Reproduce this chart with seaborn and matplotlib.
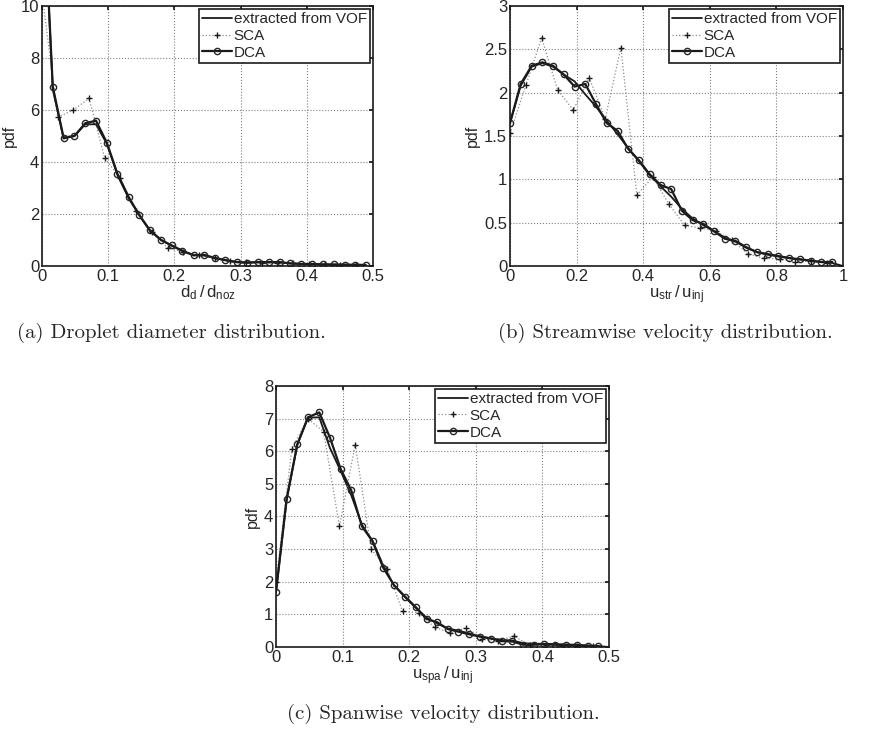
import numpy as np
import pandas as pd
import seaborn as sns
import matplotlib.pyplot as plt

# ---- (a) droplet diameter ----
a_dca_x = [0.0, 0.0163, 0.0326, 0.049, 0.0653, 0.0816, 0.098, 0.114, 0.131, 0.147, 0.163,
           0.18, 0.196, 0.212, 0.229, 0.245, 0.261, 0.277, 0.294, 0.31, 0.326, 0.343,
           0.359, 0.375, 0.392, 0.408, 0.424, 0.441, 0.457, 0.473, 0.489]
a_dca_y = [15.5, 6.9, 4.94, 5.0, 5.49, 5.59, 4.74, 3.55, 2.65, 1.96, 1.38,
           1.0, 0.79, 0.59, 0.41, 0.43, 0.31, 0.23, 0.15, 0.13, 0.15, 0.15,
           0.15, 0.10, 0.08, 0.08, 0.06, 0.06, 0.05, 0.05, 0.04]
a_vof_y = [15.5, 6.8, 4.9, 5.0, 5.45, 5.45, 4.7, 3.5, 2.6, 1.95, 1.35,
           1.0, 0.78, 0.58, 0.42, 0.4, 0.3, 0.22, 0.15, 0.13, 0.14, 0.14,
           0.14, 0.1, 0.08, 0.07, 0.06, 0.05, 0.05, 0.04, 0.03]
a_sca_x = [0.0, 0.0237, 0.0474, 0.0711, 0.0948, 0.1185, 0.142, 0.166, 0.19, 0.213, 0.237,
           0.261, 0.284, 0.308, 0.332, 0.355, 0.379, 0.403, 0.427, 0.45, 0.474]
a_sca_y = [10.5, 5.72, 6.0, 6.45, 4.15, 3.37, 2.1, 1.3, 0.7, 0.55, 0.42,
           0.3, 0.2, 0.15, 0.13, 0.12, 0.1, 0.08, 0.06, 0.05, 0.04]

# ---- (b) streamwise velocity ----
b_dca_x = [0.0, 0.032, 0.065, 0.097, 0.129, 0.161, 0.194, 0.226, 0.258, 0.29, 0.323,
           0.355, 0.387, 0.419, 0.452, 0.484, 0.516, 0.548, 0.581, 0.613, 0.645,
           0.677, 0.71, 0.742, 0.774, 0.806, 0.839, 0.871, 0.903, 0.935, 0.968]
b_dca_y = [1.65, 2.10, 2.31, 2.35, 2.31, 2.21, 2.07, 2.10, 1.87, 1.65, 1.56,
           1.35, 1.22, 1.06, 0.935, 0.888, 0.638, 0.53, 0.485, 0.40, 0.315,
           0.29, 0.215, 0.16, 0.138, 0.115, 0.092, 0.077, 0.062, 0.046, 0.046]
b_vof_x = b_dca_x + [1.0]
b_vof_y = [1.65, 2.08, 2.30, 2.34, 2.30, 2.21, 2.13, 1.98, 1.84, 1.68, 1.52,
           1.36, 1.21, 1.05, 0.92, 0.80, 0.66, 0.55, 0.47, 0.40, 0.33,
           0.28, 0.21, 0.16, 0.13, 0.11, 0.09, 0.075, 0.06, 0.045, 0.035, 0.0]
b_sca_x = [0.0, 0.048, 0.095, 0.143, 0.19, 0.238, 0.286, 0.333, 0.381, 0.429, 0.476,
           0.524, 0.571, 0.619, 0.667, 0.714, 0.762, 0.81, 0.857, 0.905, 0.952]
b_sca_y = [1.53, 2.09, 2.63, 2.03, 1.80, 2.17, 1.70, 2.52, 0.82, 1.03, 0.72,
           0.47, 0.44, 0.40, 0.30, 0.14, 0.09, 0.08, 0.05, 0.06, 0.03]

# ---- (c) spanwise velocity ----
c_dca_x = [0.0, 0.016, 0.032, 0.048, 0.065, 0.081, 0.097, 0.113, 0.129, 0.145, 0.161,
           0.177, 0.194, 0.21, 0.226, 0.242, 0.258, 0.274, 0.29, 0.306, 0.323,
           0.339, 0.355, 0.371, 0.387, 0.403, 0.419, 0.435, 0.452, 0.468, 0.484]
c_dca_y = [1.69, 4.55, 6.21, 7.04, 7.19, 6.42, 5.46, 4.80, 3.70, 3.24, 2.43,
           1.90, 1.54, 1.22, 0.86, 0.76, 0.55, 0.47, 0.39, 0.32, 0.26,
           0.18, 0.17, 0.07, 0.07, 0.09, 0.07, 0.05, 0.05, 0.03, 0.03]
c_vof_x = c_dca_x + [0.5]
c_vof_y = [1.69, 4.5, 6.2, 7.03, 7.04, 6.1, 5.4, 4.65, 3.75, 3.25, 2.5,
           1.9, 1.52, 1.2, 0.9, 0.72, 0.57, 0.5, 0.42, 0.33, 0.26,
           0.22, 0.2, 0.12, 0.1, 0.1, 0.09, 0.08, 0.07, 0.05, 0.03, 0.0]
c_sca_x = [0.0, 0.0238, 0.0476, 0.0714, 0.0952, 0.119, 0.143, 0.167, 0.19, 0.214, 0.238,
           0.262, 0.286, 0.31, 0.333, 0.357, 0.381, 0.405, 0.429, 0.452, 0.476]
c_sca_y = [2.0, 6.07, 7.0, 6.6, 3.70, 6.2, 2.99, 2.40, 1.09, 1.05, 0.61,
           0.43, 0.59, 0.25, 0.18, 0.34, 0.05, 0.06, 0.04, 0.04, 0.02]

sns.set_theme(style="white")
plt.rcParams['font.family'] = ['Liberation Sans', 'DejaVu Sans']
plt.rcParams['mathtext.fontset'] = 'custom'
plt.rcParams['mathtext.rm'] = 'Liberation Sans'

fig = plt.figure(figsize=(8.69, 7.32), dpi=100)

panels = [
    dict(rect=[0.0483, 0.6366, 0.3809, 0.3552], vof=(a_dca_x, a_vof_y), sca=(a_sca_x, a_sca_y),
         dca=(a_dca_x, a_dca_y), xlim=(0, 0.5), ylim=(0, 10), xt=np.arange(0, 0.51, 0.1),
         yt=np.arange(0, 11, 2), xl=r'$\mathregular{d_d\,/\,d_{noz}}$'),
    dict(rect=[0.5869, 0.6366, 0.3832, 0.3552], vof=(b_vof_x, b_vof_y), sca=(b_sca_x, b_sca_y),
         dca=(b_dca_x, b_dca_y), xlim=(0, 1), ylim=(0, 3), xt=np.arange(0, 1.01, 0.2),
         yt=np.arange(0, 3.01, 0.5), xl=r'$\mathregular{u_{str}\,/\,u_{inj}}$'),
    dict(rect=[0.3176, 0.1161, 0.3832, 0.3566], vof=(c_vof_x, c_vof_y), sca=(c_sca_x, c_sca_y),
         dca=(c_dca_x, c_dca_y), xlim=(0, 0.5), ylim=(0, 8), xt=np.arange(0, 0.51, 0.1),
         yt=np.arange(0, 9, 1), xl=r'$\mathregular{u_{spa}\,/\,u_{inj}}$'),
]

for p in panels:
    ax = fig.add_axes(p['rect'])
    sns.lineplot(x=p['vof'][0], y=p['vof'][1], ax=ax, color='k', lw=1.3,
                 label='extracted from VOF', estimator=None, sort=False)
    sns.lineplot(x=p['sca'][0], y=p['sca'][1], ax=ax, color='0.55', lw=0.9, ls=':',
                 marker='+', markersize=5, markeredgecolor='k', markeredgewidth=1.0,
                 label='SCA', estimator=None, sort=False)
    sns.lineplot(x=p['dca'][0], y=p['dca'][1], ax=ax, color='k', lw=1.6,
                 marker='o', markersize=4.5, markerfacecolor='none', markeredgecolor='0.15',
                 markeredgewidth=1.0, label='DCA', estimator=None, sort=False)
    ax.set_xlim(*p['xlim'])
    ax.set_ylim(*p['ylim'])
    ax.set_xticks(p['xt'])
    ax.set_yticks(p['yt'])
    ax.set_xticklabels([f'{v:g}' for v in p['xt']])
    ax.set_yticklabels([f'{v:g}' for v in p['yt']])
    ax.grid(True, ls=':', color='0.5', lw=0.8)
    ax.tick_params(direction='in', length=3, labelsize=12, top=True, right=True,
                   color='k', pad=2)
    for s in ax.spines.values():
        s.set_color('k')
        s.set_linewidth(1.2)
    ax.set_xlabel(p['xl'], fontsize=12, labelpad=0)
    ax.set_ylabel('pdf', fontsize=11.5, labelpad=3)
    leg = ax.legend(loc='upper right', fontsize=11, frameon=True, fancybox=False,
                    edgecolor='k', framealpha=1, borderaxespad=0.2, borderpad=0.2,
                    handlelength=2.0, handletextpad=0.1, labelspacing=0.18)
    leg.get_frame().set_linewidth(1.2)

cap = dict(family='cmr10', fontsize=15, ha='center', va='center')
fig.text(171 / 869, 1 - 333 / 732, '(a) Droplet diameter distribution.', **cap)
fig.text(665 / 869, 1 - 333 / 732, '(b) Streamwise velocity distribution.', **cap)
fig.text(443 / 869, 1 - 714 / 732, '(c) Spanwise velocity distribution.', **cap)

fig.savefig('out.png', dpi=100)
